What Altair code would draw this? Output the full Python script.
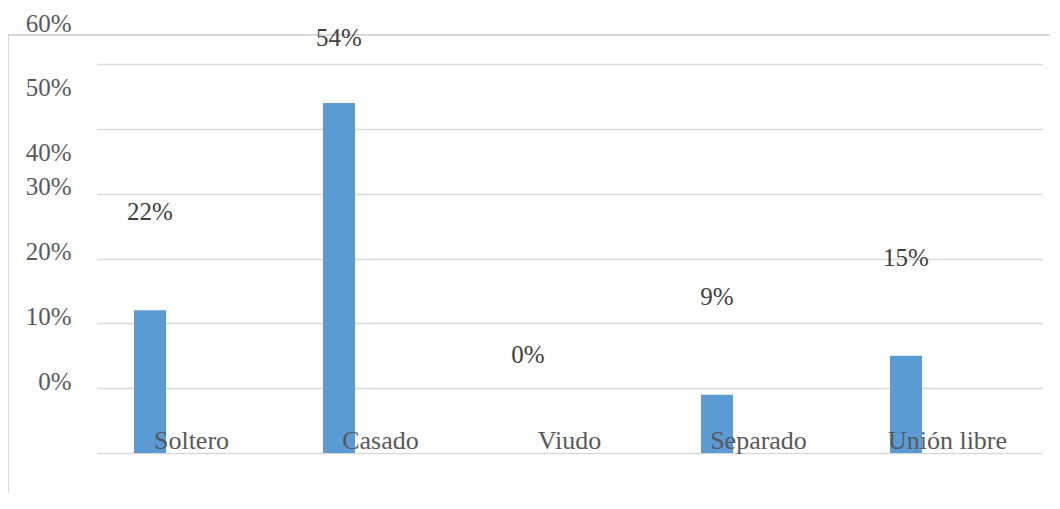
import altair as alt
import pandas as pd

categories = ["Soltero", "Casado", "Viudo", "Separado", "Unión libre"]
values = [0.22, 0.54, 0.0, 0.09, 0.15]
y_ticks = [0.0, 0.1, 0.2, 0.3, 0.4, 0.5, 0.6]

df = pd.DataFrame({"cat": categories, "val": values})

FONT = "'Liberation Serif', 'Times New Roman', 'DejaVu Serif', serif"
W, H = 945, 389

x_enc = alt.X(
    "cat:N", sort=categories, title=None,
    scale=alt.Scale(paddingInner=0, paddingOuter=0),
    axis=alt.Axis(domain=False, ticks=False, labelAngle=0, labelFont=FONT,
                  labelFontSize=26, labelColor="#595959", labelBaseline="middle",
                  labelPadding=-13, grid=False, zindex=2),
)
y_scale = alt.Scale(domain=[0, 0.6], nice=False)

bars = alt.Chart(df).mark_bar(color="#5B9BD5", size=32, xOffset=-41.5).encode(
    x=x_enc,
    y=alt.Y("val:Q", scale=y_scale, title=None,
            axis=alt.Axis(values=y_ticks, format=".0%", domain=False, ticks=False,
                          labelFont=FONT, labelFontSize=25, labelColor="#595959",
                          labelPadding=26,
                          labelOffset=alt.condition("datum.value >= 0.35", alt.value(-41), alt.value(-72)),
                          gridColor="#D9D9D9", gridWidth=1.5)),
)

labels = alt.Chart(df).transform_calculate(
    pos="min(datum.val + 0.151, 0.64)"
).mark_text(font=FONT, fontSize=25, color="#404040", xOffset=-41.5, baseline="middle").encode(
    x=alt.X("cat:N", sort=categories),
    y=alt.Y("pos:Q", scale=y_scale),
    text=alt.Text("val:Q", format=".0%"),
)

frame_left = alt.Chart(df).mark_rule(color="#D9D9D9", strokeWidth=1.5).encode(
    x=alt.value(-89), y=alt.value(-29), y2=alt.value(445)
)
frame_top = alt.Chart(df).mark_rule(color="#D9D9D9", strokeWidth=1.5).encode(
    x=alt.value(-89), x2=alt.value(963), y=alt.value(-29)
)

chart = alt.layer(frame_left, frame_top, bars, labels).properties(
    width=W, height=H,
    autosize=alt.AutoSizeParams(type="none"),
    padding={"left": 89, "top": 56, "right": 8, "bottom": 40},
).configure(background="white").configure_view(stroke=None)

chart.save("out.html", embed_options={"renderer": "svg", "actions": False})
